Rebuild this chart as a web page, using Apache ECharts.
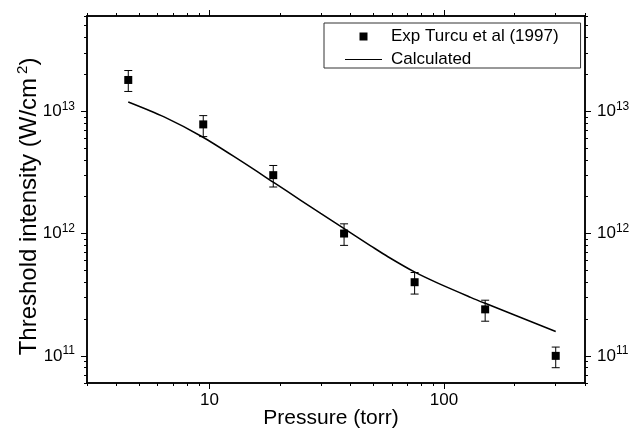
<!DOCTYPE html>
<html>
<head>
<meta charset="utf-8">
<script src="https://cdn.jsdelivr.net/npm/echarts@6/dist/echarts.min.js"></script>
<style>
  html, body { margin: 0; padding: 0; background: #fff; }
  #chart { width: 641px; height: 433px; }
</style>
</head>
<body>
<div id="chart"></div>
<script>
// measured points (pressure in torr, threshold intensity in W/cm^2)
const pressure = [4.5, 9.4, 18.7, 37.5, 75, 150, 300];
const intensity = [1.8e13, 7.8e12, 3.0e12, 1.0e12, 4.0e11, 2.4e11, 1.0e11];
const errUpper = [2.15e13, 9.2e12, 3.6e12, 1.2e12, 4.8e11, 2.85e11, 1.18e11];
const errLower = [1.45e13, 6.2e12, 2.4e12, 8.0e11, 3.2e11, 1.92e11, 8.0e10];

// calculated curve
const calcPressure = [4.5, 6.4, 9.3, 13.6, 18.7, 24.5, 29.8, 37.4, 48.7, 57.7, 75.2, 94.2, 130, 150, 300];
const calcIntensity = [1.19e13, 8.98e12, 6.18e12, 3.92e12, 2.63e12, 1.87e12, 1.46e12, 1.10e12, 7.94e11, 6.46e11, 4.83e11, 3.93e11, 3.01e11, 2.69e11, 1.58e11];

// ticks
const xMajorTicks = [10, 100];
const xMinorTicks = [3, 4, 5, 6, 7, 8, 9, 20, 30, 40, 50, 60, 70, 80, 90, 200, 300, 400];
const yMajorTicks = [1e11, 1e12, 1e13];
const yMinorTicks = [6e10, 7e10, 8e10, 9e10,
  2e11, 3e11, 4e11, 5e11, 6e11, 7e11, 8e11, 9e11,
  2e12, 3e12, 4e12, 5e12, 6e12, 7e12, 8e12, 9e12,
  2e13, 3e13, 4e13, 5e13, 6e13];

const FONT = "Liberation Sans, Arial, sans-serif";
const chart = echarts.init(document.getElementById("chart"));

const powLabel = (v) => "10{sup|" + Math.round(Math.log10(v)) + "}";
const supRich = {
  sup: { fontSize: 12, fontFamily: FONT, color: "#000", lineHeight: 12, padding: [0, 0, 10, 0] },
};
const powLabelStyle = {
  show: true, customValues: yMajorTicks, margin: 12,
  fontSize: 17, fontFamily: FONT, color: "#000",
  formatter: powLabel, rich: supRich,
};

const lineStyle = { color: "#000", width: 1.5 };

function xAxis(position, ticks, len, extra) {
  return Object.assign({
    type: "log",
    logBase: 10,
    min: 3,
    max: 400,
    position: position,
    axisLine: { show: true, lineStyle: lineStyle },
    axisTick: { show: true, inside: false, length: len, customValues: ticks, lineStyle: { color: "#000", width: 1 } },
    axisLabel: { show: false },
    splitLine: { show: false },
    minorTick: { show: false },
  }, extra || {});
}

function yAxis(position, ticks, len, extra) {
  return Object.assign({
    type: "log",
    logBase: 10,
    min: 6e10,
    max: 6e13,
    position: position,
    axisLine: { show: true, lineStyle: lineStyle },
    axisTick: { show: true, inside: false, length: len, customValues: ticks, lineStyle: { color: "#000", width: 1 } },
    axisLabel: { show: false },
    splitLine: { show: false },
    minorTick: { show: false },
  }, extra || {});
}

chart.setOption({
  backgroundColor: "#fff",
  animation: false,
  grid: { left: 87, right: 56, top: 16, bottom: 50, outerBoundsMode: "none" },
  xAxis: [
    xAxis("bottom", xMajorTicks, 6, {
      name: "Pressure (torr)",
      nameLocation: "middle",
      nameGap: 25,
      nameMoveOverlap: false,
      nameTextStyle: { fontSize: 21, fontFamily: FONT, color: "#000", padding: [0, 10, 0, 0] },
      axisLabel: { show: true, customValues: xMajorTicks, fontSize: 17, fontFamily: FONT, color: "#000", margin: 9 },
    }),
    xAxis("bottom", xMinorTicks, 3),
    xAxis("top", xMajorTicks, 6),
    xAxis("top", xMinorTicks, 3),
  ],
  yAxis: [
    yAxis("left", yMajorTicks, 6, {
      name: "Threshold intensity (W/cm{sup|2})",
      nameLocation: "middle",
      nameRotate: 90,
      nameGap: 46,
      nameMoveOverlap: false,
      nameTextStyle: {
        fontSize: 24, fontFamily: FONT, color: "#000", padding: [0, 14, 0, 0],
        rich: { sup: { fontSize: 15, fontFamily: FONT, color: "#000", lineHeight: 15, padding: [0, 0, 12, 4] } },
      },
      axisLabel: powLabelStyle,
    }),
    yAxis("left", yMinorTicks, 3),
    yAxis("right", yMajorTicks, 6, { axisLabel: powLabelStyle }),
    yAxis("right", yMinorTicks, 3),
  ],
  legend: {
    orient: "vertical",
    left: 324,
    top: 23,
    padding: [5, 22, 0, 21],
    itemGap: 6,
    itemWidth: 37,
    itemHeight: 8,
    borderColor: "#333",
    borderWidth: 1,
    backgroundColor: "#fff",
    textStyle: { fontSize: 17, fontFamily: FONT, color: "#000", padding: [0, 0, 0, 4] },
    data: [
      { name: "Exp Turcu et al (1997)", icon: "path://M0,0H10V10H0Z", itemStyle: { color: "#000", opacity: 1 } },
      { name: "Calculated", icon: "path://M0,0H37V1.2H0Z", itemStyle: { color: "#000", opacity: 1 } },
    ],
  },
  series: [
    {
      name: "Exp Turcu et al (1997)",
      type: "custom",
      xAxisIndex: 0,
      yAxisIndex: 0,
      itemStyle: { color: "#000" },
      data: pressure.map((p, i) => [p, errLower[i], errUpper[i]]),
      encode: { x: 0, y: [1, 2] },
      renderItem: (params, api) => {
        const lo = api.coord([api.value(0), api.value(1)]);
        const hi = api.coord([api.value(0), api.value(2)]);
        const w = 4;
        const st = { stroke: "#000", lineWidth: 1 };
        return {
          type: "group",
          children: [
            { type: "line", shape: { x1: hi[0], y1: hi[1], x2: lo[0], y2: lo[1] }, style: st },
            { type: "line", shape: { x1: hi[0] - w, y1: hi[1], x2: hi[0] + w, y2: hi[1] }, style: st },
            { type: "line", shape: { x1: lo[0] - w, y1: lo[1], x2: lo[0] + w, y2: lo[1] }, style: st },
          ],
        };
      },
      z: 2,
    },
    {
      name: "Exp Turcu et al (1997)",
      type: "scatter",
      xAxisIndex: 0,
      yAxisIndex: 0,
      symbol: "rect",
      symbolSize: 8,
      itemStyle: { color: "#000", opacity: 1 },
      data: pressure.map((p, i) => [p, intensity[i]]),
      z: 3,
    },
    {
      name: "Calculated",
      type: "line",
      xAxisIndex: 0,
      yAxisIndex: 0,
      symbol: "none",
      smooth: 0.3,
      lineStyle: { color: "#000", width: 1.5 },
      itemStyle: { color: "#000" },
      data: calcPressure.map((p, i) => [p, calcIntensity[i]]),
      z: 4,
    },
  ],
});
</script>
</body>
</html>
